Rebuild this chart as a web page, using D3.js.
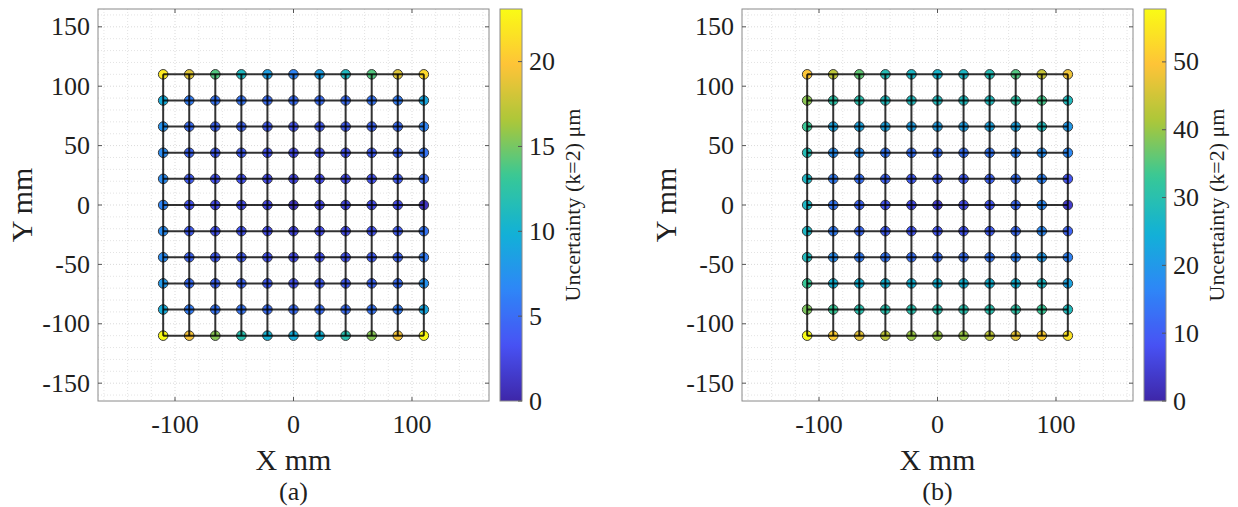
<!DOCTYPE html>
<html><head><meta charset="utf-8">
<script src="https://cdn.jsdelivr.net/npm/d3@7"></script>
<style>body{margin:0;background:#fff}svg{display:block}text{font-family:"Times New Roman","Liberation Serif",Times,serif;fill:#1f1f1f}</style>
</head><body><svg id="c" width="1238" height="507"></svg>
<script>
// grid positions (mm)
const gridX = [-110,-88,-66,-44,-22,0,22,44,66,88,110];
const gridY = [110,88,66,44,22,0,-22,-44,-66,-88,-110];
// axis ticks
const xTicks = [-100,0,100];
const yTicks = [-150,-100,-50,0,50,100,150];
const cbTicksA = [0,5,10,15,20];
const cbTicksB = [0,10,20,30,40,50];
const cbMaxA = 23.1;
const cbMaxB = 57.8;
// uncertainty values (k=2, µm), rows from Y=110 down to Y=-110
const uncA = [
 [22.0,18.5,14.0,11.0,8.5,6.5,8.5,11.0,14.0,18.5,21.0],
 [9.5,6.0,5.5,5.5,5.0,5.0,5.0,5.0,5.5,6.0,9.0],
 [7.5,5.0,4.5,4.5,4.0,3.5,4.0,4.0,4.5,5.0,6.5],
 [7.0,4.5,4.0,4.0,3.5,3.0,3.5,3.5,4.0,4.5,5.5],
 [7.0,4.0,3.5,3.5,3.0,2.5,3.0,3.0,3.5,4.0,5.0],
 [6.5,3.5,3.0,3.0,2.5,1.0,2.5,2.5,3.0,3.0,1.0],
 [7.0,4.0,3.5,3.5,3.0,2.5,3.0,3.0,3.5,4.0,5.5],
 [7.0,4.5,4.0,4.0,3.5,3.0,3.5,3.5,4.0,4.5,6.0],
 [8.0,5.0,4.5,4.5,4.0,3.5,4.0,4.0,4.5,5.0,7.5],
 [9.5,6.0,5.5,5.5,5.0,5.0,5.0,5.0,5.5,6.0,9.0],
 [23.1,19.5,15.5,12.0,10.0,9.5,10.0,12.0,15.5,19.5,23.0]
];
const uncB = [
 [50,43,36,29,27,26,27,29,35,44,48],
 [39,31,30,28,28,28,28,28,31,34,28],
 [33,22,22,22,21,21,21,22,22,28,20],
 [29,18,18,14,13,13,13,14,16,18,17],
 [27,15,13,11,10,10,10,11,13,16,9],
 [27,14,11,9,7,4,7,9,12,17,4],
 [27,15,12,10,9,9,9,10,12,17,11],
 [28,18,15,14,13,13,13,14,16,20,16],
 [33,25,25,25,25,25,25,25,25,27,22],
 [38,33,30,30,30,30,30,30,31,33,28],
 [57.8,51,47,43,40,40,40,43,47,51,54]
];
const panelLabels = ["(a)","(b)"];

const parulaStops = [
 [0.2422,0.1504,0.6603],[0.2810,0.3228,0.9579],[0.1786,0.5289,0.9682],
 [0.0689,0.6948,0.8394],[0.2161,0.7843,0.5923],[0.6720,0.7793,0.2227],
 [0.9970,0.7659,0.2199],[0.9769,0.9839,0.0805]
];
function parula(t){
  t = Math.max(0,Math.min(1,t));
  const n = parulaStops.length-1, f = t*n, i = Math.min(n-1,Math.floor(f)), u = f-i;
  const a = parulaStops[i], b = parulaStops[i+1];
  return d3.rgb(...[0,1,2].map(k=>255*(a[k]+(b[k]-a[k])*u))).formatHex();
}

const svg = d3.select("#c");
const defs = svg.append("defs");

function panel(idx, left, values, cmax, cticks){
  const x0 = left, x1 = left+391, y0 = 9, y1 = 401;
  const x = d3.scaleLinear().domain([-165,165]).range([x0,x1]);
  const y = d3.scaleLinear().domain([-165,165]).range([y1,y0]);
  const col = v => parula(v/cmax);
  const g = svg.append("g");
  // grid
  const minorX = d3.range(-160,161,20), minorY = d3.range(-160,161,10);
  g.selectAll(".gx").data(minorX).join("line").attr("x1",d=>x(d)).attr("x2",d=>x(d)).attr("y1",y0).attr("y2",y1)
   .attr("stroke",d=>d%100===0?"#cfcfcf":"#dcdcdc").attr("stroke-width",0.8).attr("stroke-dasharray","1,2");
  g.selectAll(".gy").data(minorY).join("line").attr("y1",d=>y(d)).attr("y2",d=>y(d)).attr("x1",x0).attr("x2",x1)
   .attr("stroke",d=>d%50===0?"#cfcfcf":"#dcdcdc").attr("stroke-width",0.8).attr("stroke-dasharray","1,2");
  // markers
  const pts = [];
  gridY.forEach((yy,r)=>gridX.forEach((xx,c)=>pts.push({x:xx,y:yy,v:values[r][c]})));
  g.selectAll(".pt").data(pts).join("circle").attr("cx",d=>x(d.x)).attr("cy",d=>y(d.y)).attr("r",4.8)
   .attr("fill",d=>col(d.v)).attr("stroke","#3a3a3a").attr("stroke-width",1);
  // connecting lines
  const ext = d3.extent(gridX), eyt = d3.extent(gridY);
  g.selectAll(".hl").data(gridY).join("line").attr("x1",x(ext[0])).attr("x2",x(ext[1])).attr("y1",d=>y(d)).attr("y2",d=>y(d))
   .attr("stroke","#000").attr("stroke-opacity",0.8).attr("stroke-width",2);
  g.selectAll(".vl").data(gridX).join("line").attr("y1",y(eyt[0])).attr("y2",y(eyt[1])).attr("x1",d=>x(d)).attr("x2",d=>x(d))
   .attr("stroke","#000").attr("stroke-opacity",0.8).attr("stroke-width",2);
  // box
  g.append("rect").attr("x",x0).attr("y",y0).attr("width",x1-x0).attr("height",y1-y0).attr("fill","none").attr("stroke","#8a8a8a").attr("stroke-width",1);
  // ticks
  const tl = 4;
  xTicks.forEach(t=>{
    g.append("line").attr("x1",x(t)).attr("x2",x(t)).attr("y1",y1).attr("y2",y1-tl).attr("stroke","#555");
    g.append("line").attr("x1",x(t)).attr("x2",x(t)).attr("y1",y0).attr("y2",y0+tl).attr("stroke","#555");
    g.append("text").attr("x",x(t)).attr("y",y1+32).attr("text-anchor","middle").attr("font-size",26).text(t);
  });
  yTicks.forEach(t=>{
    g.append("line").attr("x1",x0).attr("x2",x0+tl).attr("y1",y(t)).attr("y2",y(t)).attr("stroke","#555");
    g.append("line").attr("x1",x1).attr("x2",x1-tl).attr("y1",y(t)).attr("y2",y(t)).attr("stroke","#555");
    g.append("text").attr("x",x0-8).attr("y",y(t)+8.5).attr("text-anchor","end").attr("font-size",26).text(t);
  });
  // axis labels
  const cx = (x0+x1)/2;
  g.append("text").attr("x",cx).attr("y",470).attr("text-anchor","middle").attr("font-size",30).text("X mm");
  g.append("text").attr("transform",`translate(${x0-66},${(y0+y1)/2}) rotate(-90)`).attr("text-anchor","middle").attr("font-size",30).text("Y mm");
  g.append("text").attr("x",cx).attr("y",500).attr("text-anchor","middle").attr("font-size",26).text(panelLabels[idx]);
  // colorbar
  const cbx = x1+11, cbw = 22;
  const cs = d3.scaleLinear().domain([0,cmax]).range([y1,y0]);
  const gid = "grad"+idx;
  const grad = defs.append("linearGradient").attr("id",gid).attr("x1",0).attr("y1",1).attr("x2",0).attr("y2",0);
  d3.range(0,1.0001,0.02).forEach(t=>grad.append("stop").attr("offset",t).attr("stop-color",parula(t)));
  g.append("rect").attr("x",cbx).attr("y",y0).attr("width",cbw).attr("height",y1-y0).attr("fill",`url(#${gid})`).attr("stroke","#8a8a8a").attr("stroke-width",1);
  cticks.forEach(t=>{
    g.append("line").attr("x1",cbx+cbw).attr("x2",cbx+cbw-4).attr("y1",cs(t)).attr("y2",cs(t)).attr("stroke","#555");
    g.append("text").attr("x",cbx+cbw+7).attr("y",cs(t)+8.5).attr("font-size",26).text(t);
  });
  g.append("text").attr("transform",`translate(${cbx+cbw+58},${(y0+y1)/2}) rotate(-90)`).attr("text-anchor","middle").attr("font-size",22).text("Uncertainty (k=2) μm");
}
panel(0, 98, uncA, cbMaxA, cbTicksA);
panel(1, 742, uncB, cbMaxB, cbTicksB);
</script></body></html>
